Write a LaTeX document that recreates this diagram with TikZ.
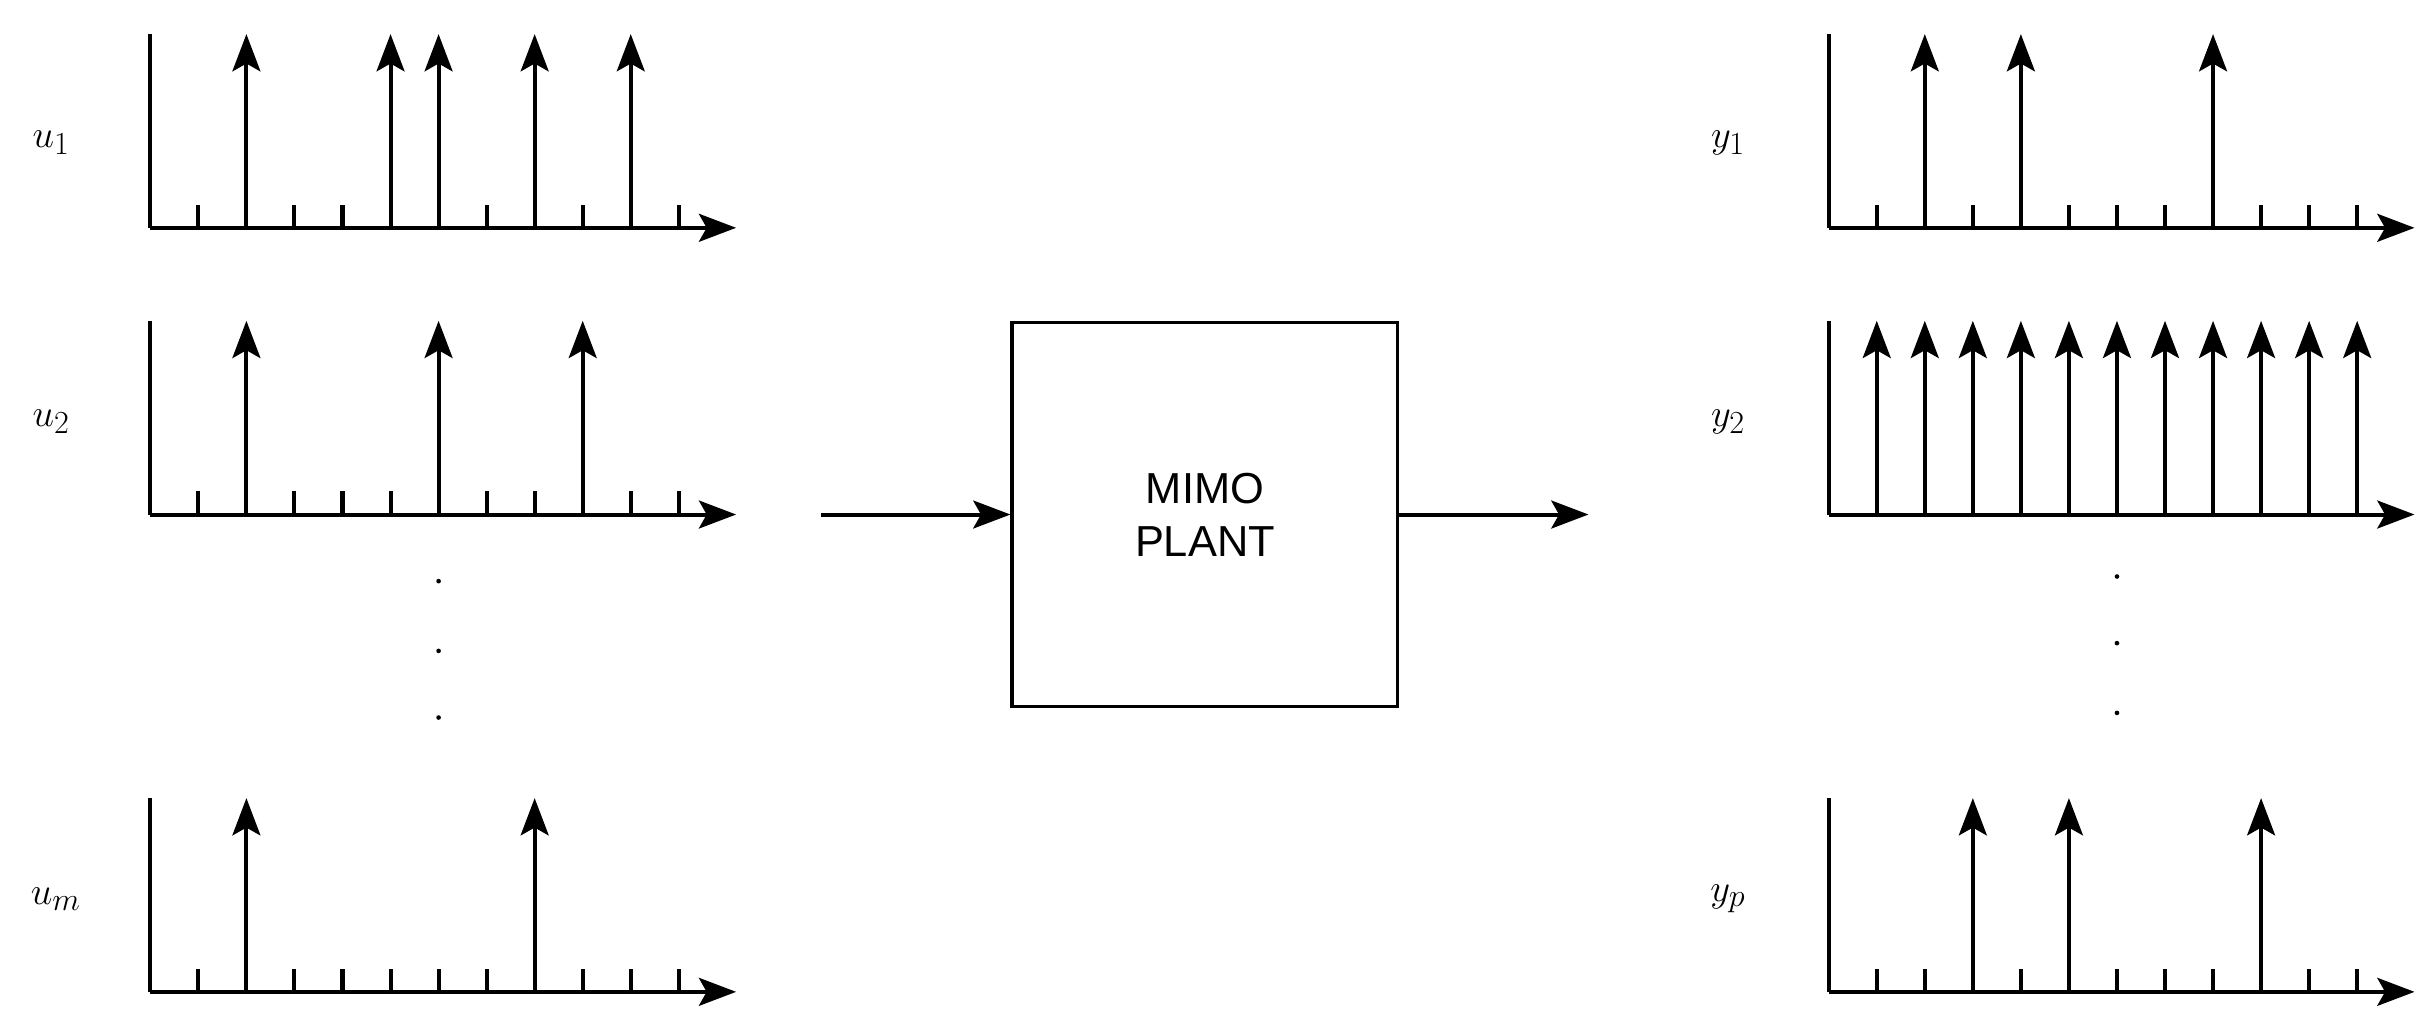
\documentclass[tikz,border=0pt]{standalone}
\usepackage{fontspec}
\newfontfamily\sansf{Liberation Sans}
\usetikzlibrary{arrows.meta}
\begin{document}
\begin{tikzpicture}[x=1pt,y=-1pt,
  ln/.style={line width=2.6pt},
  imp/.style={ln,-{Stealth[length=24pt,width=18pt,inset=5pt]}},
  ax/.style={ln,-{Stealth[length=24pt,width=18pt,inset=5pt]}},
  lab/.style={font=\fontsize{30}{30}\selectfont},
  dot/.style={circle,fill,inner sep=0pt,minimum size=3pt}]
\useasboundingbox (0,0) rectangle (1568,667);
% panel macro via pic
\tikzset{panel/.pic={
  \coordinate (-o) at (0,0);
  \coordinate (-t) at (0,-125);
  \coordinate (-e) at (378,0);
  \draw[ln] (-t) -- (-o);
  \draw[ax] (-o) -- (-e);
  \foreach \k in {1,...,11} \draw[ln] (31*\k,0) -- (31*\k,-15);
}}
\newcommand{\imps}[2]{\foreach \k in {#2} \draw[imp] (#1)++(31*\k,0) coordinate (#1-i\k) -- ++(0,-125);}
% left
\pic (p1) at (97,147) {panel};
\pic (p2) at (97,332) {panel};
\pic (pm) at (97,640) {panel};
\imps{p1-o}{2,5,6,8,10}
\imps{p2-o}{2,6,9}
\imps{pm-o}{2,8}
\node[lab] (u1) at (33,92) {$u_1$};
\node[lab] (u2) at (33,272) {$u_2$};
\node[lab] (um) at (36,580) {$u_m$};
\foreach \y [count=\i] in {375,420,463} \node[dot] (ld\i) at (283,\y) {};
% right
\pic (q1) at (1180,147) {panel};
\pic (q2) at (1180,332) {panel};
\pic (qp) at (1180,640) {panel};
\imps{q1-o}{2,4,8}
\imps{q2-o}{1,2,3,4,5,6,7,8,9,10,11}
\imps{qp-o}{3,5,9}
\node[lab] (y1) at (1115,92) {$y_1$};
\node[lab] (y2) at (1115,272) {$y_2$};
\node[lab] (yp) at (1115,580) {$y_p$};
\foreach \y [count=\i] in {372,415,460} \node[dot] (rd\i) at (1366,\y) {};
% box
\node[draw,line width=2pt,minimum width=249pt,minimum height=248pt,align=center,
  font=\sansf\fontsize{28}{34}\selectfont] (box) at (777.5,332) {MIMO\\PLANT};
\coordinate (in) at (530,332);
\coordinate (out) at (1025,332);
\draw[imp] (in) -- (box.west);
\draw[imp] (box.east) -- (out);
\end{tikzpicture}
\end{document}
